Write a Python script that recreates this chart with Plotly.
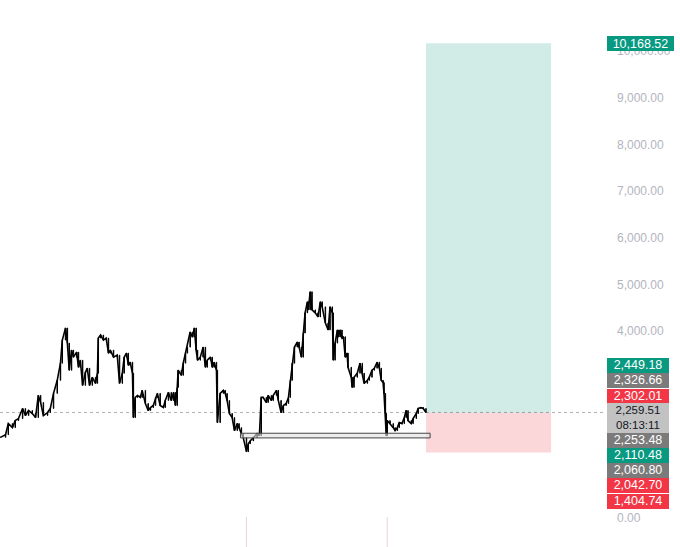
import pandas as pd
import plotly.graph_objects as go

# daily ETH-style price trace (days since 2023-10-23, close)
START = pd.Timestamp("2023-10-23")

day_offsets = [
    0, 11, 17, 26, 32, 39, 48, 54, 61, 69, 76, 82, 87, 93, 102, 108, 115, 123, 130, 134,
    141, 145, 149, 154, 158, 165, 169, 173, 178, 184, 188, 193, 199, 206, 210, 212, 217, 223, 229, 234,
    238, 245, 253, 258, 264, 268, 273, 277, 281, 286, 288, 292, 297, 303, 307, 314, 320, 325, 331, 336,
    340, 346, 353, 357, 364, 370, 375, 379, 383, 385, 392, 396, 401, 405, 411, 416, 420, 424, 427, 433,
    439, 444, 448, 455, 459, 463, 468, 470, 476, 483, 487, 491, 496,
    502, 507, 513, 517, 522, 526, 533, 537, 541, 548, 556, 561, 565, 569, 576, 580, 587, 591, 598, 602,
    608, 613, 619, 624, 628, 632, 637, 643, 647, 652, 656, 660, 665, 667, 671, 675, 682, 688, 693, 697,
    704, 710, 714, 719,
    721, 725, 730, 732, 736, 740, 743, 747, 751, 753, 760, 762, 766, 773, 779, 784, 788, 795, 799, 805,
    810, 816, 821, 825, 829, 831, 834, 836, 838, 844, 851, 855, 860, 864, 870, 875, 879, 883, 890, 894,
    901, 905, 911, 916, 922,
]
closes = [
    1726, 1784, 2021, 1935, 2086, 2129, 2345, 2194, 2302, 2237, 2151, 2625, 2474, 2194, 2258, 2345, 2668, 2948, 3314, 3810,
    4069, 3745, 3164, 3595, 3444, 3551, 3228, 3379, 2840, 3120, 3207, 2840, 3013, 2883, 3099, 3853, 3918, 3810, 3853, 3530,
    3595, 3444, 3487, 2883, 3099, 3444, 3530, 3271, 3336, 3099, 2151, 2582, 2625, 2582, 2733, 2452, 2302, 2366, 2409, 2582,
    2668, 2409, 2366, 2517, 2689, 2517, 2689, 2409, 2797, 3164, 3056, 3314, 3530, 3659, 3982, 3875, 4069, 3595, 3379, 3444,
    3659, 3228, 3379, 3444, 3228, 3336, 3164, 2043, 2668, 2733, 2668, 2517, 2237,
    2151, 1871, 2021, 1935, 1806, 1720, 1420, 1590, 1650, 1720, 1806, 1763, 2582, 2582, 2474, 2625, 2517, 2625, 2733, 2517,
    2258, 2409, 2452, 2582, 2948, 3314, 3659, 3767, 3659, 3444, 3961, 4392, 4629, 4457, 4844, 4457, 4392, 4306, 4629, 4521,
    4176, 4026, 4521, 4392,
    3380, 3745, 4026, 3875, 4026, 3853, 3880, 3444, 3530, 3228, 3013, 2797, 3013, 3099, 3314, 3099, 2883, 2948, 3013, 3164,
    3207, 3336, 3207, 2948, 2900, 2668, 2237, 1760, 2086, 2021, 1935, 1871, 1935, 2043, 2021, 2151, 2302, 2086, 2021, 2129,
    2237, 2345, 2366, 2345, 2259.51,
]

# long position tool
pos_start_day = 922
pos_end_day = 1193
entry_price = 2253.48
target_price = 10168.52
stop_price = 1404.74

# horizontal zone drawn under the lows
zone_start_day = 520
zone_end_day = 931
zone_low = 1715
zone_high = 1815

last_price = 2259.51
countdown = "08:13:11"

# right-hand price tags (stacked)
tag_prices = [2449.18, 2326.66, 2302.01, 2259.51, 2253.48, 2110.48, 2060.80, 2042.70, 1404.74]
tag_kinds = ["green", "gray", "red", "last", "gray", "green", "gray", "red", "red"]

# 1k-3k labels sit under the tags in the original, so they are left out
price_ticks = [0, 4000, 5000, 6000, 7000, 8000, 9000, 10000, 11000]

GREEN = "#089981"
RED = "#f23645"
GRAY = "#7b7b7b"
LIGHT = "#c2c2c2"
TICK_GRAY = "#b2b5be"
FONT = "Liberation Sans"
H = 547


def day(n):
    return START + pd.Timedelta(days=n)


dates = START + pd.to_timedelta(day_offsets, unit="D")
opens = [closes[0]] + closes[:-1]
highs = [max(o, c) for o, c in zip(opens, closes)]
lows = [min(o, c) for o, c in zip(opens, closes)]

fig = go.Figure()

fig.add_trace(go.Scatter(
    x=dates, y=closes, mode="lines",
    line=dict(color="black", width=1.6),
    hoverinfo="skip",
))
fig.add_trace(go.Candlestick(
    x=dates, open=opens, high=highs, low=lows, close=closes,
    increasing=dict(line=dict(color="black", width=1), fillcolor="black"),
    decreasing=dict(line=dict(color="black", width=1), fillcolor="black"),
    whiskerwidth=0,
    hoverinfo="skip",
))

# last price dotted line
fig.add_shape(type="line", xref="paper", x0=0, x1=1, yref="y", y0=last_price, y1=last_price,
              line=dict(color="#b0b0b0", width=1, dash="dot"), layer="below")

# profit / loss zones
fig.add_shape(type="rect", x0=day(pos_start_day), x1=day(pos_end_day), y0=entry_price, y1=target_price,
              fillcolor="rgba(8,153,129,0.19)", line=dict(width=0), layer="above")
fig.add_shape(type="rect", x0=day(pos_start_day), x1=day(pos_end_day), y0=stop_price, y1=entry_price,
              fillcolor="rgba(242,54,69,0.2)", line=dict(width=0), layer="above")

# support rectangle
fig.add_shape(type="rect", x0=day(zone_start_day), x1=day(zone_end_day), y0=zone_low, y1=zone_high,
              fillcolor="rgba(225,225,225,0.6)", line=dict(color="#444444", width=1), layer="above")

# faint marks at the bottom
for d in [533, 838]:
    fig.add_shape(type="line", x0=day(d), x1=day(d), yref="paper", y0=0, y1=30 / H,
                  line=dict(color="rgba(220,180,190,0.6)", width=1))

# target tag
fig.add_annotation(xref="paper", x=1, xanchor="left", xshift=1, yref="y", y=target_price,
                   yanchor="middle", text=f"{target_price:,.2f}", showarrow=False,
                   width=67, height=15, bgcolor=GREEN, borderpad=0, borderwidth=0,
                   font=dict(family=FONT, size=12.5, color="white"))

# stacked tags
colors = {"green": GREEN, "red": RED, "gray": GRAY, "last": LIGHT}
top = 358.3
for price, kind in zip(tag_prices, tag_kinds):
    h = 29.5 if kind == "last" else 15.1
    yc = 1 - (top + h / 2) / H
    if kind == "last":
        text = f"{price:,.2f}<br>{countdown}"
        fig.add_annotation(xref="paper", x=1, xanchor="left", xshift=1, yref="paper", y=yc,
                           yanchor="middle", text=text, showarrow=False, width=62, height=h,
                           bgcolor=LIGHT, borderpad=0, borderwidth=0,
                           font=dict(family=FONT, size=11.5, color="#131722"))
    else:
        fig.add_annotation(xref="paper", x=1, xanchor="left", xshift=1, yref="paper", y=yc,
                           yanchor="middle", text=f"{price:,.2f}", showarrow=False,
                           width=62, height=h - 0.4, bgcolor=colors[kind], borderpad=0, borderwidth=0,
                           font=dict(family=FONT, size=12.5, color="white"))
    top += h

fig.update_layout(
    width=680, height=H,
    margin=dict(l=0, r=74, t=0, b=0),
    paper_bgcolor="white", plot_bgcolor="white",
    showlegend=False,
    xaxis=dict(
        range=[day(-1), day(1312)],
        showgrid=False, zeroline=False, showticklabels=False, ticks="",
        rangeslider=dict(visible=False),
    ),
    yaxis=dict(
        side="right",
        range=[-621, 11092],
        tickvals=price_ticks,
        ticktext=[f"{v:,.2f}" for v in price_ticks],
        showgrid=False, zeroline=False, ticks="",
        ticklabelstandoff=10,
        tickfont=dict(family=FONT, size=12, color=TICK_GRAY),
    ),
)

# page body has a default 8px margin; drop it so the chart fills the window
fig.write_html("out.html", config={"displayModeBar": False},
               post_script="document.body.style.margin='0';")
